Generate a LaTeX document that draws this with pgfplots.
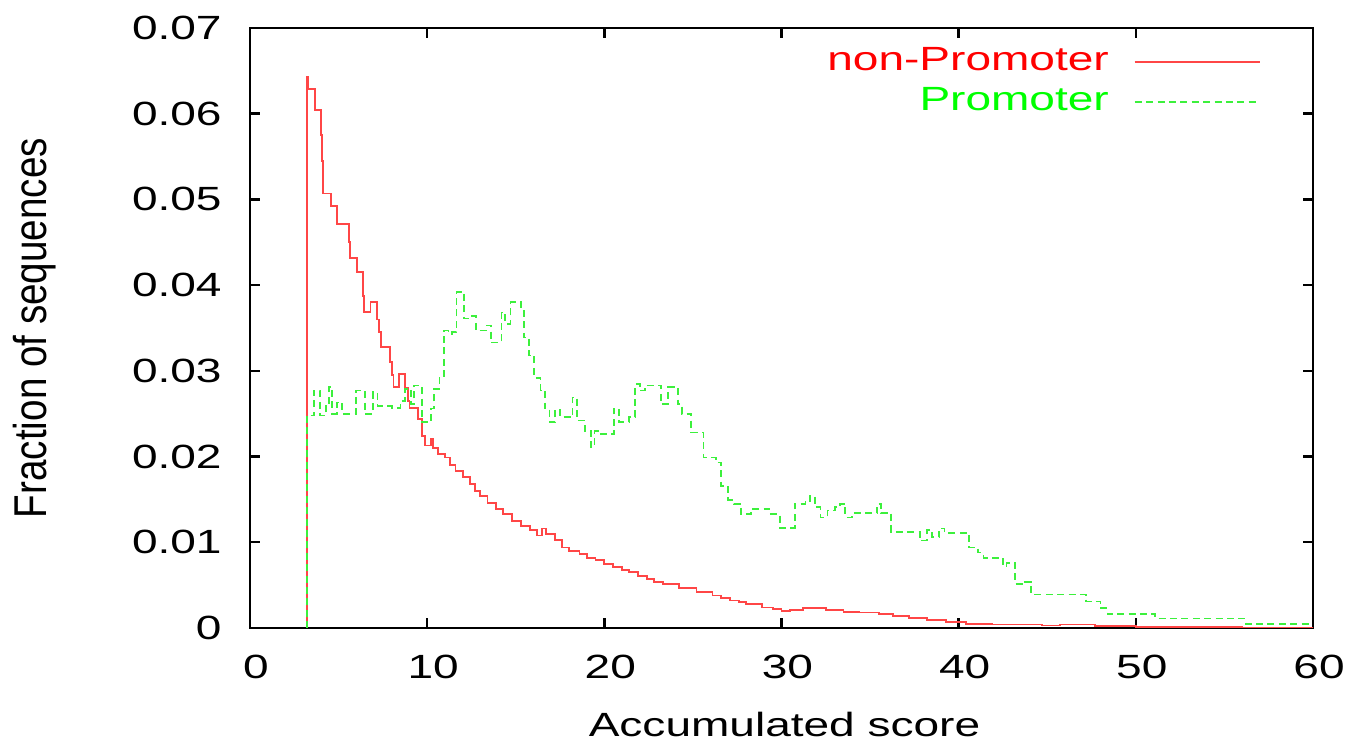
\documentclass[border=0pt]{standalone}
\usepackage{graphicx}
\usepackage{fontspec}
\setmainfont{Liberation Sans}
\usepackage{pgfplots}
\pgfplotsset{compat=1.18}
\newcommand{\wide}[1]{\scalebox{1.37}[1]{#1}}
\newcommand{\lblfont}{\fontsize{16.8pt}{20pt}\selectfont}
\definecolor{lred}{RGB}{255,70,70}
\definecolor{lgreen}{RGB}{60,240,60}

\pgfplotstableread{
x y
3.19 0
3.2 0.0643
3.3 0.0629
3.67 0.0604
4.03 0.0575
4.07 0.0545
4.11 0.0519
4.14 0.0507
4.56 0.0492
4.9 0.0471
5.6 0.0450
5.66 0.0432
6.03 0.0415
6.38 0.0387
6.45 0.0369
6.8 0.0380
7.16 0.0360
7.3 0.0345
7.4 0.0328
7.9 0.0310
8.0 0.0295
8.1 0.0281
8.4 0.0296
8.75 0.0280
8.9 0.0265
9.0 0.0257
9.5 0.0244
9.7 0.0224
9.9 0.0213
10.2 0.0221
10.35 0.0210
10.6 0.0203
11.0 0.0199
11.3 0.0190
11.6 0.0183
12.0 0.0176
12.4 0.0168
12.7 0.0160
13.0 0.0154
13.4 0.0146
13.9 0.0139
14.3 0.0133
14.8 0.0125
15.3 0.0119
15.8 0.0114
16.2 0.0108
16.5 0.0116
16.7 0.0110
17.2 0.0103
17.6 0.0094
18.0 0.0090
18.6 0.0086
19.0 0.0082
19.5 0.0079
20.0 0.0075
20.5 0.0071
21.0 0.0068
21.4 0.0065
21.9 0.0061
22.4 0.0057
22.8 0.0054
23.3 0.0051
24.2 0.0047
25.2 0.0042
26.1 0.0038
26.6 0.0035
27.1 0.0032
27.6 0.0030
28.0 0.0028
28.9 0.0024
29.5 0.0022
30.0 0.0020
30.5 0.0021
31.2 0.0023
32.5 0.0021
33.5 0.0019
34.4 0.0018
35.5 0.0016
36.3 0.0014
37.2 0.0012
38.2 0.0009
39.3 0.0007
40.4 0.0005
41.9 0.0004
44.7 0.0003
45.7 0.0004
47.7 0.0002
50.0 0.0001
56.0 0.00005
60.0 0
}\nonpromoter

\pgfplotstableread{
x y
3.19 0
3.2 0.0248
3.6 0.0277
3.95 0.0248
4.3 0.0261
4.45 0.0281
4.65 0.0250
4.9 0.0263
5.2 0.0250
6.0 0.0277
6.5 0.0250
6.95 0.0275
7.2 0.0259
8.0 0.0257
8.5 0.0265
8.75 0.0279
9.1 0.0261
9.25 0.0283
9.7 0.0240
10.2 0.0256
10.4 0.0279
10.7 0.0294
10.95 0.0347
11.2 0.0343
11.4 0.0345
11.65 0.0392
12.1 0.0361
12.5 0.0364
12.75 0.0347
13.3 0.0353
13.6 0.0333
14.2 0.0368
14.4 0.0355
14.7 0.0380
15.3 0.0370
15.45 0.0339
15.75 0.0318
16.05 0.0292
16.4 0.0277
16.65 0.0256
16.9 0.0240
17.2 0.0254
17.5 0.0246
18.2 0.0269
18.45 0.0242
18.9 0.0230
19.25 0.0211
19.45 0.0230
19.8 0.0226
20.55 0.0256
20.85 0.0240
21.4 0.0246
21.75 0.0285
22.0 0.0277
22.3 0.0283
23.2 0.0261
23.6 0.0281
24.15 0.0261
24.4 0.0250
24.9 0.0228
25.6 0.0199
26.3 0.0193
26.6 0.0166
27.0 0.0149
27.3 0.0145
27.7 0.0133
28.3 0.0139
29.3 0.0133
29.9 0.0117
30.75 0.0145
31.35 0.0147
31.6 0.0154
31.9 0.0141
32.2 0.0129
32.6 0.0137
33.0 0.0141
33.3 0.0145
33.6 0.0129
34.0 0.0134
35.4 0.0145
35.6 0.0134
36.2 0.0112
37.8 0.0102
38.2 0.0114
38.5 0.0106
38.9 0.0116
39.2 0.0111
40.6 0.0094
41.1 0.0088
41.4 0.0082
42.5 0.0072
42.7 0.0076
43.2 0.0051
43.7 0.0054
44.1 0.0039
47.2 0.0031
48.0 0.0023
48.4 0.0016
51.1 0.0011
56.2 0.0005
60.0 0.0005
}\promoter

\begin{document}
\begin{tikzpicture}
\begin{axis}[
  name=ax,
  scale only axis,
  width=531.5pt, height=300pt,
  xmin=0, xmax=60, ymin=0, ymax=0.07,
  axis line style={line width=1.2pt, black},
  xtick={0,10,20,30,40,50,60},
  xticklabels={\wide{0},\wide{10},\wide{20},\wide{30},\wide{40},\wide{50},\wide{60}},
  ytick={0,0.01,0.02,0.03,0.04,0.05,0.06,0.07},
  yticklabels={\wide{0},\wide{0.01},\wide{0.02},\wide{0.03},\wide{0.04},\wide{0.05},\wide{0.06},\wide{0.07}},
  scaled y ticks=false,
  tick align=inside,
  major tick length=5pt,
  tick style={line width=1.2pt, black},
  minor tick num=0,
  xticklabel style={font=\lblfont, inner sep=0pt, anchor=north, yshift=-13.5pt, xshift=3pt},
  yticklabel style={font=\lblfont, inner sep=0pt, anchor=east, xshift=-14pt},
  xlabel={\wide{Accumulated score}},
  ylabel={\scalebox{1.15}[1.37]{Fraction of sequences}},
  xlabel style={font=\lblfont, inner sep=0pt, at={(axis description cs:0.5,-0.139)}, anchor=north, xshift=1.5pt},
  ylabel style={font=\lblfont, inner sep=0pt, at={(axis description cs:-0.2023,0.5)}, anchor=center, rotate=0},
  legend plot pos=right,
  legend cell align=right,
  legend image code/.code={\path (0pt,0pt); \draw[#1] (12.5pt,0pt) -- (75pt,0pt);},
  legend style={draw=none, fill=none, font=\lblfont, at={(axis description cs:1,1)}, anchor=north east,
    xshift=-26pt, yshift=-9pt, inner sep=0pt, row sep=4.3pt,
    nodes={inner sep=0pt, text height=12.2pt, text depth=3.5pt}},
]
\addplot[const plot, lred, line width=0.9pt] table {\nonpromoter};
\addlegendentry{\textcolor{red}{\wide{non-Promoter}}}
\addplot[const plot, lgreen, line width=0.9pt, dash pattern=on 3.5pt off 2.2pt] table {\promoter};
\addlegendentry{\textcolor{green}{\wide{Promoter}}}
\end{axis}
\pgfresetboundingbox
\path ([xshift=-125pt,yshift=-57pt]ax.south west) rectangle ([xshift=17.5pt,yshift=14pt]ax.north east);
\end{tikzpicture}
\end{document}
